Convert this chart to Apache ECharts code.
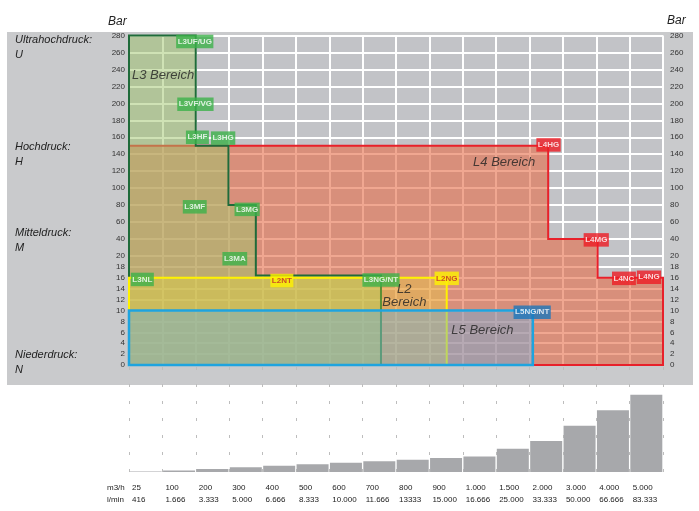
<!DOCTYPE html>
<html><head><meta charset="utf-8">
<script src="https://cdn.jsdelivr.net/npm/echarts@6/dist/echarts.min.js"></script>
<style>html,body{margin:0;padding:0;background:#fff}#c{width:699px;height:511px}</style>
</head><body><div id="c"></div>
<script>
// ---- data ----
const yTickValues = [0,2,4,6,8,10,12,14,16,18,20,40,60,80,100,120,140,160,180,200,220,240,260,280];
const flowM3h  = ['25','100','200','300','400','500','600','700','800','900','1.000','1.500','2.000','3.000','4.000','5.000'];
const flowLmin = ['416','1.666','3.333','5.000','6.666','8.333','10.000','11.666','13333','15.000','16.666','25.000','33.333','50.000','66.666','83.333'];
const flowValues = [25,100,200,300,400,500,600,700,800,900,1000,1500,2000,3000,4000,5000];

// region outlines: [column position, bar]
const regionL4 = [[0,0],[0,150],[12.56,150],[12.56,40],[14.04,40],[14.04,16],[16,16],[16,0]];
const regionL3 = [[0,0],[0,280],[2,280],[2,150],[2.98,150],[2.98,80],[3.8,80],[3.8,16.4],[7.55,16.4],[7.55,0]];
const regionL2 = [[0,0],[0,16],[9.52,16],[9.52,0]];
const regionL5 = [[0,0],[0,10],[12.1,10],[12.1,0]];

// tag labels: [column, bar, text]
const tagsL3 = [[1.97,273,'L3UF/UG'],[1.99,199,'L3VF/VG'],[2.05,160,'L3HF'],[2.82,159,'L3HG'],[1.97,78,'L3MF'],[3.54,75,'L3MG'],[3.17,19.5,'L3MA'],[0.40,15.7,'L3NL'],[7.55,15.6,'L3NG/NT']];
const tagsL2 = [[4.58,15.5,'L2NT'],[9.52,15.9,'L2NG']];
const tagsL4 = [[12.57,151,'L4HG'],[14.0,39,'L4MG'],[14.83,15.9,'L4NC'],[15.58,16.1,'L4NG']];
const tagsL5 = [[12.08,9.7,'L5NG/NT']];
const regionNames = [[1.02,233,'L3 Bereich'],[11.24,130,'L4 Bereich'],[8.25,12.7,'L2\nBereich'],[10.59,6.4,'L5 Bereich']];

// ---- scale transform (piecewise linear y axis) ----
const K = 0.15562;
function ty(v){ return v <= 20 ? v : 20 + (v - 20) * K; }
function inv(u){ return u <= 20.0001 ? u : 20 + (u - 20) / K; }
const YMAX = ty(280);
const yCustom = yTickValues.map(ty);

const FONT = 'Liberation Sans';
let zc = 2;
function fill(data, color, opacity){
  return {type:'line', xAxisIndex:0, yAxisIndex:0, z: zc++, silent:true, symbol:'none', clip:false,
    data: data.map(p => [p[0], ty(p[1])]), lineStyle:{width:0, opacity:0}, areaStyle:{color, opacity, origin:'start'}};
}
function outline(data, color, width, closed){
  const d = data.map(p => [p[0], ty(p[1])]);
  if (closed) d.push(d[0]);
  return {type:'line', xAxisIndex:0, yAxisIndex:0, z: zc++, silent:true, symbol:'none', clip:false,
    data: d, lineStyle:{width, color, join:'miter', cap:'square'}};
}
function tags(list, bg, fg){
  return {type:'scatter', xAxisIndex:0, yAxisIndex:0, z: 50, silent:true, symbolSize:0,
    data: list.map(t => ({value:[t[0], ty(t[1])], name:t[2]})),
    label:{show:true, position:'inside', formatter: p => p.name, backgroundColor:bg, color:fg,
      fontFamily:FONT, fontSize:8, fontWeight:'bold', padding:[2,1.5,1.5,1.5], lineHeight:10}};
}

const chart = echarts.init(document.getElementById('c'), null, {renderer:'canvas'});
const yAxisCommon = {
  type:'value', min:0, max:YMAX, gridIndex:0,
  axisLine:{show:false}, axisTick:{show:false, customValues:yCustom},
  splitLine:{show:true, lineStyle:{color:'#ffffff', width:2}},
  axisLabel:{customValues:yCustom, fontFamily:FONT, fontSize:8, color:'#333',
    formatter: v => String(Math.round(inv(v)))}
};
chart.setOption({
  animation:false,
  grid:[
    {left:129, right:36, top:35.5, bottom:146, show:true, backgroundColor:'#c2c3c7', borderWidth:0},
    {left:129, right:36, top:367, bottom:39}
  ],
  xAxis:[
    {type:'value', gridIndex:0, min:0, max:16, interval:1, axisLine:{show:false}, axisTick:{show:false}, axisLabel:{show:false},
     splitLine:{show:true, lineStyle:{color:'#ffffff', width:2}}},
    {type:'value', gridIndex:1, min:0, max:16, interval:1, axisLine:{show:false}, axisTick:{show:false},
     splitLine:{show:true, lineStyle:{color:'#bdbdbd', width:1, type:[3,14]}},
     axisLabel:{customValues:[0,1,2,3,4,5,6,7,8,9,10,11,12,13,14,15], align:'left', margin:10, padding:[0,0,0,3],
       fontFamily:FONT, fontSize:8, lineHeight:12, color:'#222',
       formatter: v => (flowM3h[v] !== undefined ? flowM3h[v] + '\n' + flowLmin[v] : '')}}
  ],
  yAxis:[
    Object.assign({}, yAxisCommon, {position:'left', axisLabel:Object.assign({}, yAxisCommon.axisLabel, {margin:4})}),
    Object.assign({}, yAxisCommon, {position:'right', splitLine:{show:false}, axisLabel:Object.assign({}, yAxisCommon.axisLabel, {margin:7, align:'left'})}),
    {type:'value', gridIndex:1, min:0, max:6800, show:false, splitLine:{show:false}}
  ],
  graphic:[
    {type:'rect', z:-100, shape:{x:7, y:32, width:686, height:353}, style:{fill:'#c9cacc'}},
    {type:'text', z:100, left:108, top:16, style:{text:'Bar', font:'italic 12px "Liberation Sans"', fill:'#222'}},
    {type:'text', z:100, left:667, top:15, style:{text:'Bar', font:'italic 12px "Liberation Sans"', fill:'#222'}},
    {type:'text', z:100, left:15, top:32, style:{text:'Ultrahochdruck:\nU', font:'italic 11px "Liberation Sans"', fill:'#222', lineHeight:15.5}},
    {type:'text', z:100, left:15, top:139, style:{text:'Hochdruck:\nH', font:'italic 11px "Liberation Sans"', fill:'#222', lineHeight:15.5}},
    {type:'text', z:100, left:15, top:225, style:{text:'Mitteldruck:\nM', font:'italic 11px "Liberation Sans"', fill:'#222', lineHeight:15.5}},
    {type:'text', z:100, left:15, top:347, style:{text:'Niederdruck:\nN', font:'italic 11px "Liberation Sans"', fill:'#222', lineHeight:15.5}},
    {type:'text', z:100, left:107, top:482, style:{text:'m3/h\nl/min', font:'8px "Liberation Sans"', fill:'#222', lineHeight:12}}
  ],
  series:[
    fill(regionL4, 'rgb(230,109,71)', 0.6),
    outline(regionL4, '#e8202a', 2, true),
    fill(regionL3, 'rgb(160,197,107)', 0.5),
    outline(regionL3, '#1f6b3a', 2, false),
    fill(regionL2, 'rgb(240,230,40)', 0.3),
    outline(regionL2, '#fff200', 2, false),
    fill(regionL5, 'rgb(95,172,230)', 0.4),
    outline(regionL5, '#1ea4df', 2.5, true),
    tags(tagsL3, '#3cb14a', '#ffffff'),
    tags(tagsL2, '#fff200', '#c1272d'),
    tags(tagsL4, '#ed1c24', '#ffffff'),
    tags(tagsL5, '#1b75bc', '#ffffff'),
    {type:'scatter', xAxisIndex:0, yAxisIndex:0, z:50, silent:true, symbolSize:0,
     data: regionNames.map(t => ({value:[t[0], ty(t[1])], name:t[2]})),
     label:{show:true, position:'inside', formatter: p => p.name, fontFamily:FONT, fontStyle:'italic', fontSize:13, lineHeight:13, color:'#222'}},
    {type:'bar', xAxisIndex:1, yAxisIndex:2, barWidth:32, silent:true,
     data: flowValues.map((v,i) => [i + 0.5, v]), itemStyle:{color:'#a7a8ab'}}
  ]
});
</script></body></html>
